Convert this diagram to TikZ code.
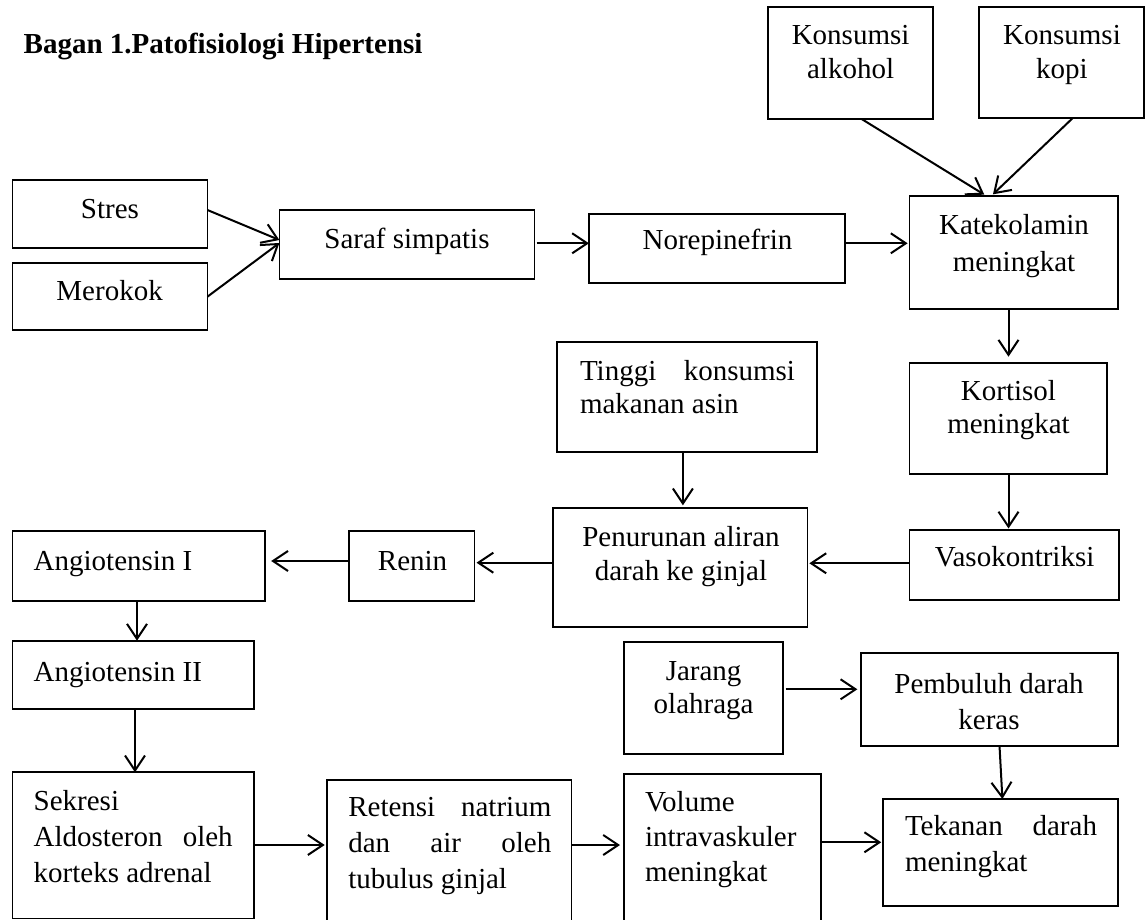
\documentclass[tikz,border=0pt]{standalone}
\usepackage{fontspec}
\setmainfont{Liberation Serif}
\usetikzlibrary{arrows.meta,calc}
\tikzset{
  bx/.style={draw, line width=1.7pt, inner sep=0pt, outer sep=0pt},
  txt/.style={inner sep=0pt, outer sep=0pt, font=\fontsize{29}{34}\selectfont},
  arr/.style={line width=2pt, -{Straight Barb[length=15pt,width=20pt,line width=2pt]}},
}
\newcommand\mkbox[5]{\node[bx, minimum width={#4pt-#2pt}, minimum height={#5pt-#3pt}] (#1) at ({(#2+#4)/2},{(#3+#5)/2}) {};}
% centered text: name, x center, first baseline, skip, text
\newcommand\ctext[5]{\node[txt, anchor=base] (#1) at (#2,#3) {\parbox[t]{320pt}{\centering\baselineskip=#4pt #5}};}
% left/justified text: name, x left, first baseline, skip, width, text
\newcommand\ltext[6]{\node[txt, anchor=base west] (#1) at (#2,#3) {\parbox[t]{#5pt}{\baselineskip=#4pt #6}};}
\begin{document}
\begin{tikzpicture}[x=1pt,y=-1pt]
\useasboundingbox (0,0) rectangle (1146,920);
\fill[white] (0,0) rectangle (1146,920);
\clip (0,0) rectangle (1146,920);

% boxes
\mkbox{stres}{12.6}{180}{207.4}{247.7}
\mkbox{merokok}{12.6}{263.3}{207.4}{330}
\mkbox{saraf}{279.4}{210}{534.6}{279}
\mkbox{norepi}{589}{214}{845.3}{283.3}
\mkbox{alkohol}{767.7}{7.3}{933}{119}
\mkbox{kopi}{979}{7.3}{1144}{118}
\mkbox{kat}{909.6}{195.7}{1117.9}{309.3}
\mkbox{kortisol}{909.6}{362.7}{1107}{474.3}
\mkbox{tinggi}{556.8}{342.3}{817.2}{452.3}
\mkbox{pen}{553}{508.3}{807.4}{626.7}
\mkbox{vaso}{909.6}{530}{1119}{600}
\mkbox{renin}{349}{531}{474.5}{600.7}
\mkbox{angI}{12.6}{530.7}{265.2}{600.7}
\mkbox{angII}{12.6}{640.7}{253.7}{709.3}
\mkbox{sekresi}{12.6}{772.3}{253.7}{918.5}
\mkbox{retensi}{327.2}{780}{571.4}{935}
\mkbox{jarang}{624}{642.3}{783.2}{754}
\mkbox{pembuluh}{860.9}{653.3}{1117.9}{745.7}
\mkbox{volume}{624}{774}{820.8}{935}
\mkbox{tekanan}{883.2}{799}{1117.9}{905.7}

% texts
\node[txt, anchor=base west, font=\fontsize{29}{34}\selectfont\bfseries] (title) at (23.7,53.3) {Bagan 1.Patofisiologi Hipertensi};
\ctext{stres-t}{110}{218.3}{34}{Stres}
\ctext{merokok-t}{109.6}{300}{34}{Merokok}
\ctext{saraf-t}{407}{248.3}{34}{Saraf simpatis}
\ctext{norepi-t}{717.5}{250}{34}{Norepinefrin}
\ctext{alkohol-t}{850.6}{45}{34}{Konsumsi\\alkohol}
\ctext{kopi-t}{1062}{45}{34}{Konsumsi\\kopi}
\ctext{kat-t}{1014}{235}{36.7}{Katekolamin\\meningkat}
\ctext{kortisol-t}{1008.5}{400.7}{32.6}{Kortisol\\meningkat}
\ctext{vaso-t}{1014.6}{566.7}{34}{Vasokontriksi}
\ltext{tinggi-t}{580}{380}{33.3}{215}{Tinggi\hfill konsumsi\\makanan asin}
\ctext{pen-t}{681}{546.7}{33.3}{Penurunan aliran\\darah ke ginjal}
\ctext{renin-t}{412.6}{570.7}{34}{Renin}
\node[txt, anchor=base west] (angI-t) at (33.7,570.7) {Angiotensin I};
\node[txt, anchor=base west] (angII-t) at (33.7,681) {Angiotensin II};
\ltext{sekresi-t}{33.7}{810}{36.3}{199}{Sekresi\\Aldosteron\hfill oleh\\korteks adrenal}
\ltext{retensi-t}{348.3}{816.7}{35.8}{203}{Retensi\hfill natrium\\dan\hfill air\hfill oleh\\tubulus ginjal}
\ltext{volume-t}{645}{811.7}{35}{170}{Volume\\intravaskuler\\meningkat}
\ctext{jarang-t}{703.6}{680}{33.3}{Jarang\\olahraga}
\ctext{pembuluh-t}{989}{693.3}{36}{Pembuluh darah\\keras}
\ltext{tekanan-t}{905}{835}{36.7}{192}{Tekanan\hfill darah\\meningkat}

% connectors
\draw[arr] (stres.east |- 0,210) -- (saraf.west |- 0,240);
\draw[arr] (merokok.east |- 0,296.7) -- (saraf.west |- 0,243);
\draw[arr, shorten <=2pt] (saraf.east |- 0,243.3) -- (norepi.west |- 0,243.3);
\draw[arr, shorten <=1pt, shorten >=2pt] (norepi.east |- 0,243.3) -- (kat.west |- 0,243.3);
\draw[arr, shorten >=2pt] (alkohol.south -| 861.6,0) -- (kat.north -| 986,0);
\draw[arr, shorten >=2pt] (kopi.south -| 1072.8,0) -- (kat.north -| 991.5,0);
\draw[arr, shorten >=6pt] (kat.south -| 1008.5,0) -- (kortisol.north -| 1008.5,0);
\draw[arr, shorten >=1.5pt] (kortisol.south -| 1008.5,0) -- (vaso.north -| 1008.5,0);
\draw[arr, shorten >=2pt] (vaso.west |- 0,563.3) -- (pen.east |- 0,563.3);
\draw[arr, shorten >=3pt] (tinggi.south -| 682.9,0) -- (pen.north -| 682.9,0);
\draw[arr, shorten >=2pt] (pen.west |- 0,562.7) -- (renin.east |- 0,562.7);
\draw[arr, shorten >=6pt] (renin.west |- 0,561) -- (angI.east |- 0,561);
\draw[arr] (angI.south -| 137,0) -- (angII.north -| 137,0);
\draw[arr] (angII.south -| 135,0) -- (sekresi.north -| 135,0);
\draw[arr, shorten >=2.5pt] (sekresi.east |- 0,845) -- (retensi.west |- 0,845);
\draw[arr, shorten >=4pt] (retensi.east |- 0,845) -- (volume.west |- 0,845);
\draw[arr, shorten >=2pt] (volume.east |- 0,842.3) -- (tekanan.west |- 0,842.3);
\draw[arr, shorten <=2.5pt, shorten >=3.5pt] (jarang.east |- 0,689.3) -- (pembuluh.west |- 0,689.3);
\draw[arr] (pembuluh.south -| 999.5,0) -- (tekanan.north -| 1002.4,0);
\end{tikzpicture}
\end{document}
